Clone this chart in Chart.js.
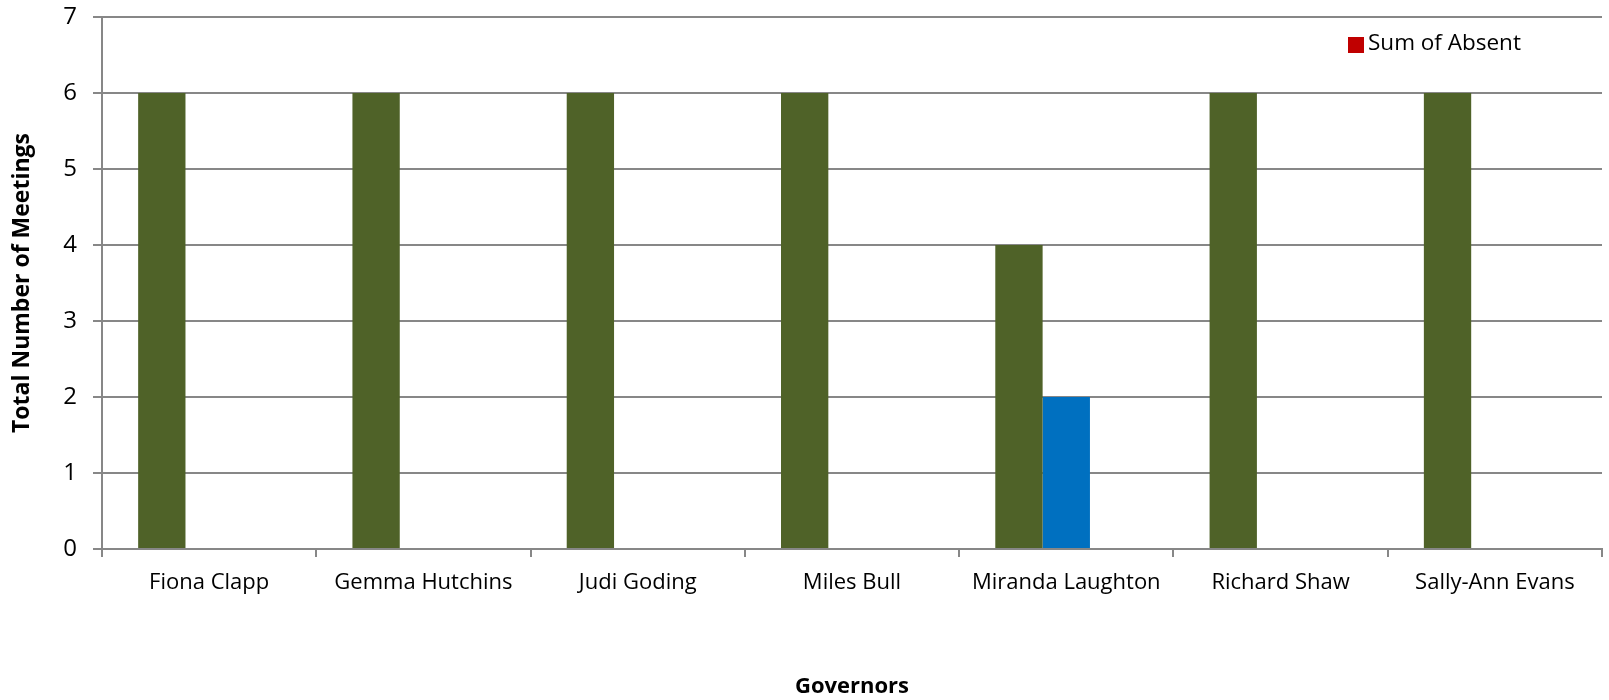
<!DOCTYPE html>
<html><head><meta charset="utf-8">
<script src="https://cdn.jsdelivr.net/npm/chart.js@4.4.1/dist/chart.umd.min.js"></script>
<style>html,body{margin:0;padding:0;background:#fff}#wrap{width:1609px;height:700px}</style>
</head><body><div id="wrap"><canvas id="c" width="1609" height="700"></canvas></div>
<script>
const categories = ["Fiona Clapp","Gemma Hutchins","Judi Goding","Miles Bull","Miranda Laughton","Richard Shaw","Sally-Ann Evans"];
const presentValues = [6,6,6,6,4,6,6];
const apologiesValues = [0,0,0,0,2,0,0];
const absentValues = [0,0,0,0,0,0,0];
const yTicks = [0,1,2,3,4,5,6,7];

const FONT = "'Open Sans', sans-serif";
const GRID = '#878787';

const legendPlugin = {
  id: 'customLegend',
  afterDraw(chart) {
    const ctx = chart.ctx;
    const ds = chart.data.datasets.find(d => d.showInLegend);
    if (!ds) return;
    ctx.save();
    ctx.fillStyle = ds.legendColor;
    ctx.fillRect(1348, 37, 16, 16);
    ctx.fillStyle = '#000';
    ctx.font = "22.5px " + FONT;
    ctx.textBaseline = 'middle';
    ctx.textAlign = 'left';
    ctx.fillText(ds.label, 1368, 44);
    ctx.restore();
  }
};

new Chart(document.getElementById('c'), {
  type: 'bar',
  data: {
    labels: categories,
    datasets: [
      {label: 'Sum of Present', data: presentValues, backgroundColor: '#4F6228'},
      {label: 'Sum of Apologies', data: apologiesValues, backgroundColor: '#0070C0'},
      {label: 'Sum of Absent', data: absentValues, backgroundColor: '#C00000', showInLegend: true, legendColor: '#C00000'}
    ]
  },
  options: {
    responsive: false,
    animation: false,
    devicePixelRatio: 1,
    datasets: {bar: {categoryPercentage: 0.6626, barPercentage: 1.0}},
    layout: {padding: {top: 17, right: 7, left: 0, bottom: 0}},
    plugins: {legend: {display: false}, tooltip: {enabled: false}},
    scales: {
      x: {
        grid: {display: true, drawOnChartArea: false, drawTicks: true, tickLength: 8, offset: true, color: GRID, lineWidth: 2},
        border: {display: true, color: GRID, width: 2},
        ticks: {color: '#000', font: {family: FONT, size: 22}, padding: 13, maxRotation: 0, autoSkip: false},
        title: {display: true, text: 'Governors', color: '#000', font: {family: FONT, size: 22, weight: 'bold'}, padding: {top: 4, bottom: 0}},
        afterFit(s) { s.height = 151; s.paddingLeft = 0; s.paddingRight = 0; }
      },
      y: {
        min: 0, max: 7,
        afterBuildTicks(s) { s.ticks = yTicks.map(v => ({value: v})); },
        grid: {color: GRID, lineWidth: 2, tickLength: 9, drawTicks: true},
        border: {display: true, color: GRID, width: 2},
        ticks: {color: '#000', font: {family: FONT, size: 24}, padding: 16},
        title: {display: true, text: 'Total Number of Meetings', color: '#000', font: {family: FONT, size: 23, weight: 'bold'}, padding: {top: 9, bottom: 4}},
        afterFit(s) { s.width = 102; s.paddingTop = 0; s.paddingBottom = 0; }
      }
    }
  },
  plugins: [legendPlugin]
});
</script></body></html>
